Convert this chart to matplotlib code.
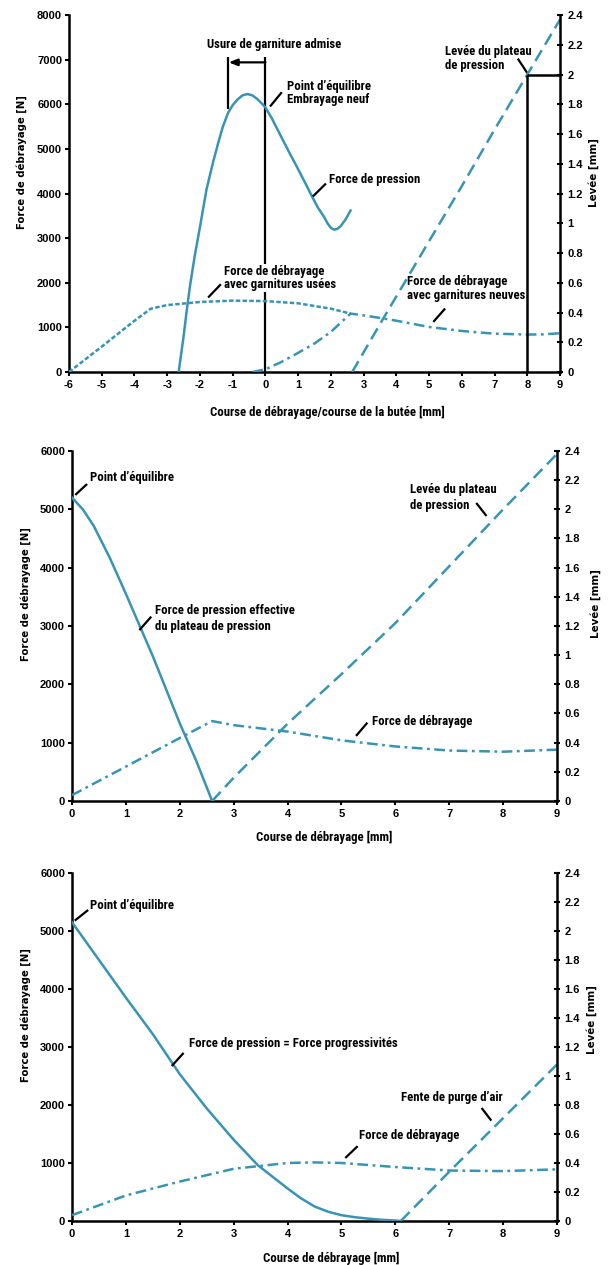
import matplotlib.pyplot as plt
from matplotlib import font_manager
from matplotlib.font_manager import FontProperties
from matplotlib.ticker import FuncFormatter, MultipleLocator

plt.rcParams['font.weight'] = 'bold'
plt.rcParams['axes.unicode_minus'] = False

TEAL = '#3894b4'
BLACK = '#000000'

# panel 1 : force de pression / débrayage, garnitures neuves et usées
p1_press_x = [-2.65, -2.5, -2.4, -2.3, -2.16, -2.0, -1.8, -1.6, -1.44, -1.3, -1.14, -1.0, -0.85, -0.7,
              -0.55, -0.4, -0.25, -0.1, 0, 0.2, 0.47, 0.7, 0.95, 1.2, 1.42, 1.6, 1.78, 1.9, 2.0, 2.1, 2.2,
              2.3, 2.45, 2.6]
p1_press_y = [0, 800, 1400, 1950, 2600, 3250, 4090, 4700, 5140, 5500, 5810, 5980, 6110, 6200,
              6230, 6200, 6120, 6010, 5930, 5680, 5290, 4960, 4615, 4260, 3940, 3690, 3490, 3330, 3230, 3190,
              3210, 3270, 3420, 3620]
p1_usees_x = [-6, -5, -4, -3.5, -3, -2, -1, 0, 1, 2, 2.6]
p1_usees_y = [0, 570, 1150, 1420, 1500, 1570, 1600, 1590, 1540, 1420, 1310]
p1_neuves_x = [-0.4, 0, 0.5, 1, 1.5, 2, 2.6, 3, 3.6, 4, 5, 6, 6.65, 7, 8, 8.5, 9]
p1_neuves_y = [0, 60, 230, 430, 640, 900, 1310, 1270, 1200, 1150, 1010, 920, 880, 860, 840, 845, 870]
p1_levee_x = [2.65, 3.6, 5, 6, 7, 8, 9]
p1_levee_y = [0, 0.36, 0.88, 1.25, 1.63, 2.0, 2.37]

# panel 2
p2_press_x = [0, 0.2, 0.4, 0.7, 1.0, 1.5, 2.0, 2.3, 2.6]
p2_press_y = [5200, 5000, 4720, 4170, 3550, 2480, 1330, 700, 0]
p2_debr_x = [0, 1, 2, 2.6, 3, 4, 5, 6, 7, 8, 9]
p2_debr_y = [100, 590, 1080, 1370, 1300, 1190, 1040, 935, 865, 845, 880]
p2_levee_x = [2.6, 3, 4, 5, 6, 7, 8, 9]
p2_levee_y = [0, 0.16, 0.53, 0.87, 1.22, 1.61, 2.0, 2.38]

# panel 3
p3_press_x = [0, 0.5, 1, 1.5, 2, 2.5, 3, 3.45, 4, 4.25, 4.5, 4.75, 5, 5.25, 5.5, 5.75, 6, 6.1]
p3_press_y = [5150, 4500, 3850, 3220, 2530, 1940, 1400, 960, 560, 390, 250, 160, 100, 65, 40, 20, 8, 0]
p3_debr_x = [0, 1, 2, 3, 4, 4.5, 5, 6, 7, 8, 9]
p3_debr_y = [100, 440, 680, 900, 1000, 1010, 1000, 930, 870, 860, 890]
p3_levee_x = [6.1, 7, 8, 9]
p3_levee_y = [0, 0.34, 0.71, 1.08]

lev_ticks = [0, 0.2, 0.4, 0.6, 0.8, 1.0, 1.2, 1.4, 1.6, 1.8, 2.0, 2.2, 2.4]

DOTTED = (0, (1.8, 0.9))
DASHDOT = (0, (4.3, 1.8, 1.1, 1.8))
DASHED = (0, (5, 2.6))
LW = 1.8
TICKFONT = ['Liberation Sans', 'DejaVu Sans']

fig = plt.figure(figsize=(6.14, 12.65), dpi=100)


# the reference uses a condensed bold face: take the narrowest one installed
def pick_font():
    for name in ['Roboto Condensed', 'Liberation Sans Narrow', 'Noto Sans', 'Open Sans', 'Roboto', 'DejaVu Sans']:
        for f in font_manager.fontManager.ttflist:
            if f.name == name and 'condensed' in str(f.stretch):
                return name, f.stretch
    return 'Roboto', 'normal'


COND, STRETCH = pick_font()
_fp = FontProperties(family=[COND, 'DejaVu Sans'], weight='bold', stretch=STRETCH, size=10)
_w = fig.canvas.get_renderer().get_text_width_height_descent('Usure de garniture admise', _fp, False)[0]
TSIZE = min(9.5, 10 * 135 / _w)
TXT = dict(fontsize=TSIZE, fontweight='bold', color=BLACK, family=[COND, 'DejaVu Sans'], fontstretch=STRETCH)


def leader(ax, a, b):
    ax.plot([a[0], b[0]], [a[1], b[1]], color=BLACK, lw=1.6, solid_capstyle='butt', zorder=6)


def style(ax, ax2, xlim, ylim, ystep, xlabel, lab_y, rlab_y, rlab_x, xl_x, xl_y):
    ax.set_xlim(*xlim)
    ax.set_ylim(*ylim)
    ax.xaxis.set_major_locator(MultipleLocator(1))
    ax.yaxis.set_major_locator(MultipleLocator(ystep))
    ax2.set_ylim(0, 2.4)
    ax2.set_yticks(lev_ticks)
    ax2.yaxis.set_major_formatter(FuncFormatter(lambda v, p: f'{v:g}'))
    for a in (ax, ax2):
        a.spines['top'].set_visible(False)
        for s in ('left', 'right', 'bottom'):
            a.spines[s].set_linewidth(1.8)
    ax.spines['right'].set_visible(False)
    ax2.spines['left'].set_visible(False)
    ax2.spines['bottom'].set_visible(False)
    ax.tick_params(axis='both', direction='out', length=3, width=1.5, labelsize=8, pad=2)
    ax.tick_params(axis='x', pad=3)
    ax2.tick_params(axis='y', direction='inout', length=5, width=1.5, labelsize=8, pad=3)
    for lbl in ax.get_xticklabels() + ax.get_yticklabels() + ax2.get_yticklabels():
        lbl.set_family(TICKFONT)
        lbl.set_fontweight('bold')
    ax.set_ylabel('Force de débrayage [N]', fontsize=7.3, fontweight='bold', family='DejaVu Sans')
    ax.yaxis.set_label_coords(-0.085, lab_y)
    ax2.set_ylabel('Levée [mm]', fontsize=7.4, fontweight='bold', family='DejaVu Sans', rotation=90)
    ax2.yaxis.set_label_coords(rlab_x, rlab_y)
    ax.set_xlabel(xlabel, **TXT)
    ax.xaxis.set_label_coords(xl_x, xl_y)


# ---------- panel 1 ----------
ax1 = fig.add_axes([0.1124, 0.7059, 0.7997, 0.2822])
ax1b = ax1.twinx()
ax1.plot(p1_press_x, p1_press_y, color=TEAL, lw=LW, zorder=3)
ax1.plot(p1_usees_x, p1_usees_y, color=TEAL, lw=LW, ls=DOTTED, zorder=3)
ax1.plot(p1_neuves_x, p1_neuves_y, color=TEAL, lw=LW, ls=DASHDOT, zorder=3)
ax1b.plot(p1_levee_x, p1_levee_y, color=TEAL, lw=LW, ls=DASHED)

# usure admise bracket
ax1.vlines(0, 0, 7050, color=BLACK, lw=1.6, zorder=2)
ax1.vlines(-1.15, 5900, 7050, color=BLACK, lw=1.6, zorder=2)
ax1.annotate('', xy=(-1.12, 6940), xytext=(0, 6940),
             arrowprops=dict(arrowstyle='-|>,head_length=0.5,head_width=0.2', color=BLACK, lw=1.6,
                             shrinkA=0, shrinkB=0))
ax1.text(0.28, 7340, 'Usure de garniture admise', ha='center', va='center', **TXT)
# levée 2 mm bracket
ax1b.vlines(8, 0, 2.0, color=BLACK, lw=1.8)
ax1b.hlines(2.0, 8, 9, color=BLACK, lw=1.8)

ax1.text(0.66, 6256, 'Point d’équilibre\nEmbrayage neuf', ha='left', va='center', linespacing=1.05, **TXT)
leader(ax1, (0.14, 5950), (0.5, 6270))
ax1.text(1.94, 4320, 'Force de pression', ha='left', va='center', **TXT)
leader(ax1, (1.45, 3935), (1.85, 4225))
ax1.text(-1.26, 2102, 'Force de débrayage\navec garnitures usées', ha='left', va='center', linespacing=1.05,
         bbox=dict(facecolor='white', edgecolor='none', pad=0.5), zorder=5, **TXT)
leader(ax1, (-1.75, 1670), (-1.36, 1968))
ax1.text(4.33, 1871, 'Force de débrayage\navec garnitures neuves', ha='left', va='center', linespacing=1.05,
         zorder=5, **TXT)
leader(ax1, (5.13, 1123), (5.49, 1424))
ax1.text(5.49, 7030, 'Levée du plateau\nde pression', ha='left', va='center', linespacing=1.05, **TXT)
leader(ax1, (7.71, 7023), (8.0, 6700))

style(ax1, ax1b, (-6, 9), (0, 8000), 1000, 'Course de débrayage/course de la butée [mm]',
      0.588, 0.56, 1.057, 0.527, -0.095)

# ---------- panel 2 ----------
ax2 = fig.add_axes([0.1173, 0.3668, 0.790, 0.2767])
ax2b = ax2.twinx()
ax2.plot(p2_press_x, p2_press_y, color=TEAL, lw=LW, zorder=3)
ax2.plot(p2_debr_x, p2_debr_y, color=TEAL, lw=LW, ls=DASHDOT, zorder=3)
ax2b.plot(p2_levee_x, p2_levee_y, color=TEAL, lw=LW, ls=DASHED)

ax2.text(0.33, 5537, 'Point d’équilibre', ha='left', va='center', **TXT)
leader(ax2, (0.06, 5246), (0.28, 5434))
ax2.text(1.54, 3120, 'Force de pression effective\ndu plateau de pression', ha='left', va='center',
         linespacing=1.3, **TXT)
leader(ax2, (1.25, 2930), (1.47, 3160))
ax2.text(6.27, 5194, 'Levée du plateau\nde pression', ha='left', va='center', linespacing=1.3, **TXT)
leader(ax2, (7.5, 5109), (7.69, 4886))
ax2.text(5.57, 1360, 'Force de débrayage', ha='left', va='center', **TXT)
leader(ax2, (5.27, 1115), (5.48, 1343))

style(ax2, ax2b, (0, 9), (0, 6000), 1000, 'Course de débrayage [mm]',
      0.591, 0.563, 1.068, 0.52, -0.086)

# ---------- panel 3 ----------
ax3 = fig.add_axes([0.1173, 0.0348, 0.790, 0.2751])
ax3b = ax3.twinx()
ax3.plot(p3_press_x, p3_press_y, color=TEAL, lw=LW, zorder=3)
ax3.plot(p3_debr_x, p3_debr_y, color=TEAL, lw=LW, ls=DASHDOT, zorder=3)
ax3b.plot(p3_levee_x, p3_levee_y, color=TEAL, lw=LW, ls=DASHED)

ax3.text(0.33, 5436, 'Point d’équilibre', ha='left', va='center', **TXT)
leader(ax3, (0.05, 5178), (0.3, 5362))
ax3.text(2.17, 3052, 'Force de pression = Force progressivités', ha='left', va='center', **TXT)
leader(ax3, (1.85, 2672), (2.07, 2897))
ax3.text(6.11, 2126, 'Fente de purge d’air', ha='left', va='center', **TXT)
leader(ax3, (7.6, 1948), (7.78, 1730))
ax3.text(5.33, 1466, 'Force de débrayage', ha='left', va='center', **TXT)
leader(ax3, (5.07, 1086), (5.3, 1290))

style(ax3, ax3b, (0, 9), (0, 6000), 1000, 'Course de débrayage [mm]',
      0.592, 0.58, 1.06, 0.535, -0.089)

fig.savefig('out.png', dpi=100)
